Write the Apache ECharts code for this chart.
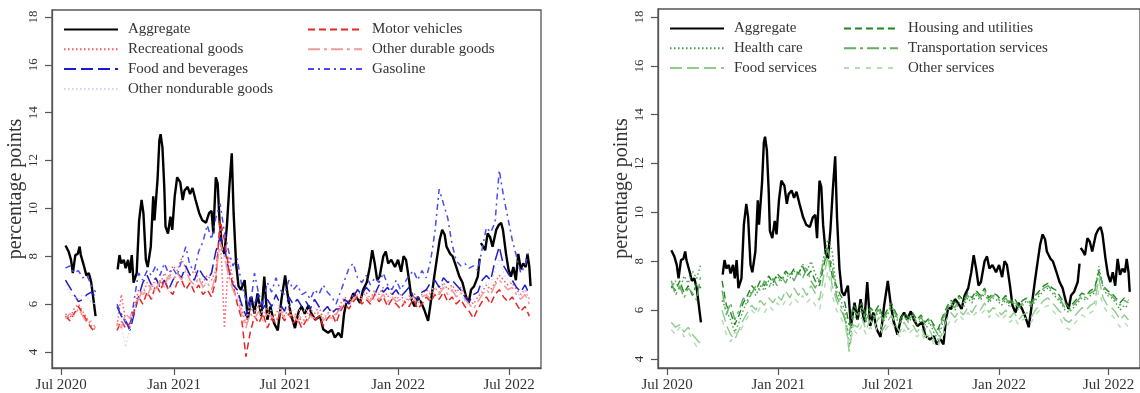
<!DOCTYPE html>
<html>
<head>
<meta charset="utf-8">
<script src="https://cdn.jsdelivr.net/npm/echarts@6/dist/echarts.min.js"></script>
<style>
html, body { margin: 0; padding: 0; background: #fff; }
#chart { width: 1140px; height: 393px; }
</style>
</head>
<body>
<div id="chart"></div>
<script>
const FONT = '"Liberation Serif", "DejaVu Serif", serif';

const xTickDates = ['2020-07-01', '2021-01-01', '2021-07-01', '2022-01-01', '2022-07-01'];
const xTickLabels = ['Jul 2020', 'Jan 2021', 'Jul 2021', 'Jan 2022', 'Jul 2022'];
const yTicks = [4, 6, 8, 10, 12, 14, 16, 18];

// aggregate: days after 2020-07-01 (irregular), null = break in the line
const aggDays = [7, 12, 16, 19, 23, 27, 30, 32, 37, 41, 45, 49, 52, 56, 74,
    92, 95, 98, 102, 105, 109, 112, 115, 118, 123, 127, 131, 134, 138, 141, 146, 150, 152, 157, 160,
    162, 165, 168, 170, 174, 178, 181, 185, 189, 194, 198, 201, 206, 210, 214, 219, 225, 230, 236, 241,
    245, 248, 252, 255, 258, 262, 266, 270, 274, 278, 281, 285, 289, 293, 299, 304, 310, 315, 320, 326,
    331, 336, 341, 347, 353, 359,
    365, 369, 374, 381, 387, 392, 397, 403, 408, 414, 422, 427, 435, 441, 446, 452, 457, 461, 465, 470,
    476, 481, 487, 492, 498, 503, 507, 511, 515, 519, 525, 529, 533, 538, 544, 549, 554, 558, 562, 567,
    571, 576, 581, 587, 592, 598, 603, 608, 612, 617, 621, 625, 628, 634, 638, 644, 649, 654, 660, 664,
    668, 673, 679, 682, 683, 684, 688, 691, 695, 699, 703, 709, 713, 717, 720, 725, 729, 733, 737, 741,
    745, 749, 753, 757, 760, 763, 765];
const aggValues = [8.45, 8.2, 7.85, 7.3, 8.05, 8.1, 8.4, 8.05, 7.6, 7.2, 7.3, 6.9, 6.3, 5.5, null,
    7.45, 8.05, 7.7, 7.85, 7.5, 7.85, 7.3, 8.05, 6.9, 7.3, 9.5, 10.35, 9.8, 7.85, 7.55, 8.4, 10.5, 9.5, 11.2, 12.85,
    13.1, 12.55, 10.9, 9.25, 8.95, 9.65, 9.1, 10.5, 11.3, 11.1, 10.35, 10.75, 10.9, 10.6, 10.85, 10.35, 9.8, 9.5, 9.4, 9.8,
    9.9, 8.95, 11.3, 11.05, 9.5, 8.4, 8.1, 9.25, 10.9, 12.3, 9.8, 7.7, 6.75, 6.6, 7.0, 5.35, 6.3, 5.6, 6.45, 5.5,
    7.15, 5.35, 5.9, 5.2, 4.9, 6.2,
    7.2, 6.4, 5.6, 5.0, 5.7, 5.9, 5.6, 5.95, 5.6, 5.35, 5.5, 4.95, 4.8, 4.93, 4.6, 4.8, 4.6, 5.6, 6.1, 6.05,
    6.45, 6.3, 6.05, 6.6, 6.9, 7.55, 8.25, 7.7, 7.0, 7.15, 8.0, 8.2, 7.7, 7.85, 7.55, 7.85, 7.35, 8.0, 7.85, 7.0,
    6.2, 5.9, 6.3, 6.05, 5.75, 5.3, 6.2, 7.15, 7.85, 8.7, 9.1, 8.9, 8.4, 8.1, 8.0, 7.55, 7.15, 6.9, 6.3, 6.05,
    6.6, 6.75, 7.15, 7.9, null, 8.55, 8.4, 8.25, 8.95, 8.8, 8.4, 9.1, 9.3, 9.4, 9.1, 8.1, 7.45, 7.15, 7.55, 7.0,
    8.1, 7.45, 7.7, 7.55, 8.1, 7.55, 6.75];

// components: one value per week starting 2020-07-08 (null = no data)
const recreational = [5.6, 5.4, 5.8, 6.0, 5.7, 5.4, 5.1, 4.9, null, null, null, null,
    5.1, 6.4, 5.3, 5.0, 5.8, 6.6, 6.4, 6.9, 6.6, 7.1, 6.8, 7.3, 7.0, 7.6, 7.4, 7.9, 7.5, 7.2, 7.4, 7.1,
    6.9, 7.2, 7.0, 7.4, 9.2, 5.0, 8.0, 7.0, 6.5, 5.8, 5.2, 5.9, 5.6, 6.0, 5.5, 5.8, 5.3, 5.6, 5.9, 5.5,
    5.8, 5.4, 5.7, 5.2, 5.5, 5.8, 5.6, 5.9, 5.4, 5.6, 5.8, 5.5, 6.0, 6.3, 6.1, 6.4, 6.6, 6.3, 6.5, 6.2,
    6.6, 6.4, 6.7, 6.3, 6.5, 6.2, 6.4, 6.1, 6.3, 6.5, 6.2, 6.4, 6.6, 6.4, 6.7, 6.5, 6.9, 6.6, 6.8, 6.5,
    6.7, 6.4, 6.2, 6.0, 6.3, 6.5, 6.8, 6.6, 6.9, 7.2, 7.0, 6.8, 6.9, 6.6, 6.4, 6.6, 6.2];
const foodBev = [7.0, 6.7, 6.4, 6.1, 6.2, 6.4, 6.5, 6.3, null, null, null, null,
    5.9, 5.5, 5.3, 4.9, 5.6, 6.3, 6.9, 7.2, 6.8, 7.1, 6.7, 7.0, 6.6, 7.0, 7.3, 7.1, 7.6, 7.2, 7.0, 7.5,
    7.2, 7.0, 7.3, 8.2, 8.8, 8.4, 7.4, 6.8, 6.6, 6.0, 5.5, 6.3, 6.0, 6.4, 5.8, 6.2, 5.9, 6.4, 6.0, 5.7,
    6.3, 6.0, 6.2, 5.9, 6.1, 5.8, 6.2, 5.9, 5.7, 5.9, 5.6, 5.8, 5.8, 6.2, 6.0, 6.3, 6.6, 6.4, 6.7, 6.5,
    6.4, 6.8, 6.5, 6.7, 6.4, 6.6, 6.3, 6.5, 6.7, 6.3, 6.2, 6.5, 6.6, 6.9, 7.0, 6.7, 7.1, 6.9, 7.0, 6.8,
    6.6, 6.3, 6.1, 6.4, 6.5, 7.0, 7.2, 7.0, 7.8, 8.4, 7.6, 7.3, 7.0, 6.7, 6.5, 6.8, 6.4];
const otherNondurable = [6.8, 6.5, 6.3, 6.2, 6.4, 6.3, 6.1, 6.0, null, null, null, null,
    5.6, 5.2, 4.2, 5.0, 5.8, 6.2, 6.6, 6.8, 6.6, 6.9, 6.7, 6.8, 6.5, 6.8, 7.0, 6.8, 7.1, 6.9, 6.7, 7.0,
    6.8, 6.9, 7.0, 7.6, 8.2, 7.8, 7.0, 6.5, 6.2, 5.8, 5.4, 5.9, 5.7, 6.0, 5.6, 5.9, 5.7, 6.1, 5.8, 5.6,
    6.0, 5.7, 5.9, 5.6, 5.8, 5.5, 5.9, 5.6, 5.4, 5.6, 5.3, 5.5, 5.7, 6.0, 5.9, 6.1, 6.3, 6.2, 6.4, 6.2,
    6.2, 6.5, 6.3, 6.4, 6.2, 6.3, 6.1, 6.2, 6.4, 6.1, 6.0, 6.3, 6.4, 6.6, 6.7, 6.5, 6.8, 6.6, 6.7, 6.5,
    6.4, 6.1, 5.9, 6.2, 6.3, 6.7, 6.9, 6.8, 7.4, 7.9, 7.3, 7.0, 6.8, 6.5, 6.3, 6.6, 6.2];
const motorVehicles = [5.5, 5.3, 5.6, 5.9, 5.6, 5.3, 5.0, 4.8, null, null, null, null,
    4.9, 5.3, 5.0, 5.2, 5.7, 6.3, 6.0, 6.5, 6.2, 6.8, 6.5, 7.0, 6.6, 6.4, 6.9, 7.0, 6.6, 6.9, 6.5, 6.8,
    6.4, 6.6, 6.3, 7.0, 9.5, 8.7, 7.5, 6.8, 6.0, 5.4, 3.8, 4.8, 5.5, 5.2, 5.6, 5.0, 5.4, 5.2, 5.6, 5.3,
    5.6, 5.2, 5.4, 5.0, 5.3, 5.6, 5.3, 5.5, 5.1, 5.4, 5.6, 5.2, 5.7, 6.0, 5.8, 6.1, 6.3, 6.0, 6.2, 6.0,
    6.4, 6.1, 6.3, 5.9, 6.2, 6.0, 5.8, 6.1, 5.9, 6.2, 5.8, 6.0, 6.3, 6.1, 6.4, 6.2, 6.5, 6.1, 6.3, 6.0,
    6.2, 5.9, 5.7, 5.4, 5.8, 6.1, 6.3, 6.0, 6.4, 6.6, 6.3, 6.1, 6.3, 6.0, 5.7, 5.9, 5.5];
const otherDurable = [5.4, 5.6, 5.5, 5.8, 5.5, 5.2, 5.3, 5.0, null, null, null, null,
    5.2, 5.0, 5.6, 5.4, 6.0, 6.2, 6.6, 6.3, 6.8, 6.5, 7.0, 6.7, 7.2, 7.0, 7.3, 7.0, 7.4, 7.0, 6.8, 7.1,
    6.7, 6.9, 6.6, 7.2, 8.6, 8.0, 7.2, 6.6, 6.2, 5.6, 5.0, 5.6, 5.4, 5.7, 5.3, 5.6, 5.5, 5.3, 5.7, 5.4,
    5.5, 5.6, 5.3, 5.5, 5.2, 5.5, 5.4, 5.7, 5.3, 5.5, 5.4, 5.6, 5.8, 6.1, 6.0, 6.2, 6.4, 6.2, 6.3, 6.1,
    6.5, 6.2, 6.4, 6.1, 6.3, 6.1, 6.2, 6.0, 6.2, 6.3, 6.0, 6.3, 6.4, 6.2, 6.5, 6.4, 6.7, 6.4, 6.6, 6.3,
    6.5, 6.2, 6.0, 5.8, 6.1, 6.4, 6.6, 6.4, 6.8, 7.0, 6.8, 6.6, 6.7, 6.4, 6.2, 6.4, 6.0];
const gasoline = [7.5, 7.6, 7.3, 7.4, 7.1, 7.2, 6.8, 6.5, null, null, null, null,
    6.0, 5.6, 5.2, 5.0, 6.2, 7.3, 7.0, 7.4, 7.2, 7.6, 7.2, 7.7, 7.3, 7.5, 7.2, 7.8, 8.4, 7.6, 7.4, 8.2,
    8.6, 9.3, 8.7, 9.6, 10.2, 9.0, 8.2, 7.6, 7.9, 6.8, 6.2, 5.8, 7.3, 6.4, 6.0, 6.9, 6.5, 7.1, 6.6, 6.4,
    7.0, 6.6, 6.8, 6.4, 6.5, 6.2, 6.6, 6.4, 6.8, 6.5, 6.3, 6.0, 6.5, 7.0, 7.5, 7.7, 7.1, 6.9, 7.2, 6.8,
    7.1, 6.9, 7.3, 6.8, 6.6, 7.0, 6.6, 6.9, 7.2, 7.4, 7.0, 7.4, 7.1, 7.8, 9.0, 10.8, 10.2, 9.6, 8.5, 7.8,
    7.6, 7.7, 7.5, 7.6, 7.4, 8.3, 9.2, 9.0, 9.4, 11.6, 10.5, 9.6, 8.7, 8.0, 7.3, 7.6, 8.3];

const healthCare = [6.9, 7.2, 6.8, 7.4, 7.1, 7.6, 7.3, 7.9, null, null, null, null,
    6.4, 6.0, 5.6, 5.1, 5.5, 6.0, 6.4, 6.8, 6.6, 7.0, 6.8, 7.2, 7.0, 7.4, 7.2, 7.5, 7.3, 7.6, 7.4, 7.9,
    7.6, 8.0, 7.5, 7.1, 8.2, 8.9, 8.4, 6.8, 6.4, 6.0, 4.5, 5.8, 5.6, 6.0, 5.5, 5.9, 5.6, 6.0, 5.5, 5.8,
    6.1, 5.7, 5.4, 5.8, 5.5, 5.7, 5.4, 5.6, 5.2, 5.5, 5.1, 4.8, 5.4, 5.9, 6.2, 6.0, 6.3, 6.1, 6.5, 6.3,
    6.6, 6.4, 6.7, 6.3, 6.5, 6.4, 6.2, 6.4, 6.1, 6.3, 6.0, 6.2, 6.4, 6.1, 6.4, 6.6, 6.8, 6.9, 6.7, 6.5,
    6.3, 6.0, 5.9, 6.1, 6.3, 6.5, 6.4, 6.6, 6.7, 7.8, 6.9, 6.6, 6.5, 6.3, 6.0, 6.2, 6.1];
const foodServices = [5.5, 5.3, 5.4, 5.1, 5.3, 5.0, 4.8, 4.6, null, null, null, null,
    6.0, 5.4, 5.0, 4.8, 5.2, 5.6, 5.9, 6.2, 6.0, 6.4, 6.2, 6.5, 6.3, 6.6, 6.4, 6.8, 6.5, 6.9, 6.6, 6.9,
    6.6, 7.0, 6.7, 6.4, 7.4, 8.2, 7.0, 6.4, 6.0, 5.7, 4.3, 5.4, 5.3, 5.7, 5.2, 5.6, 5.3, 5.7, 5.2, 5.5,
    5.8, 5.4, 5.1, 5.5, 5.2, 5.4, 5.1, 5.3, 4.9, 5.2, 4.8, 4.6, 5.1, 5.6, 5.9, 5.7, 6.0, 5.8, 6.1, 5.9,
    6.2, 6.0, 6.3, 5.9, 6.1, 6.0, 5.8, 6.0, 5.7, 5.9, 5.6, 5.8, 5.9, 5.7, 6.0, 6.2, 6.4, 6.5, 6.3, 6.1,
    5.9, 5.6, 5.5, 5.7, 5.9, 6.1, 6.0, 6.2, 6.3, 7.3, 6.5, 6.2, 6.1, 5.9, 5.6, 5.8, 5.6];
const housing = [7.0, 6.8, 7.2, 6.7, 7.0, 6.6, 7.1, 6.9, null, null, null, null,
    7.2, 6.2, 5.9, 5.4, 5.8, 6.3, 6.6, 7.0, 6.8, 7.2, 7.0, 7.4, 7.1, 7.5, 7.3, 7.6, 7.4, 7.7, 7.5, 7.8,
    7.4, 7.6, 7.2, 7.0, 7.8, 8.6, 7.4, 7.0, 6.6, 6.3, 5.4, 6.2, 6.0, 6.3, 5.8, 6.1, 5.9, 6.2, 5.7, 6.0,
    6.3, 5.9, 5.6, 5.9, 5.7, 5.9, 5.6, 5.8, 5.5, 5.7, 5.4, 5.2, 5.7, 6.1, 6.4, 6.3, 6.6, 6.4, 6.7, 6.5,
    6.8, 6.6, 6.9, 6.5, 6.7, 6.6, 6.4, 6.6, 6.3, 6.5, 6.2, 6.4, 6.5, 6.3, 6.6, 6.8, 7.0, 7.1, 6.9, 6.8,
    6.5, 6.3, 6.1, 6.3, 6.5, 6.7, 6.6, 6.8, 6.9, 7.6, 7.0, 6.8, 6.7, 6.5, 6.3, 6.5, 6.4];
const transport = [7.2, 6.6, 7.0, 6.5, 6.9, 6.7, 6.4, 7.5, null, null, null, null,
    6.8, 5.8, 6.3, 5.6, 6.0, 6.5, 6.3, 6.7, 7.0, 6.8, 7.2, 6.9, 7.3, 7.0, 7.4, 7.1, 7.5, 7.2, 7.6, 7.3,
    7.7, 7.2, 6.9, 7.3, 8.0, 8.5, 7.8, 6.6, 6.2, 5.6, 5.0, 6.0, 5.8, 6.1, 5.6, 6.0, 5.7, 6.1, 5.6, 5.9,
    6.2, 5.8, 5.5, 5.7, 5.6, 5.8, 5.5, 5.7, 5.4, 5.6, 5.3, 5.0, 5.6, 6.0, 6.3, 6.1, 6.5, 6.3, 6.6, 6.4,
    6.7, 6.5, 6.8, 6.4, 6.6, 6.5, 6.3, 6.5, 6.2, 6.4, 6.1, 6.3, 6.5, 6.2, 6.5, 6.7, 6.9, 7.0, 6.8, 6.6,
    6.4, 6.1, 6.0, 6.2, 6.4, 6.6, 6.5, 6.7, 6.8, 7.5, 7.0, 6.7, 6.6, 6.4, 6.2, 6.4, 6.3];
const otherServices = [5.2, 5.0, 5.3, 4.9, 5.1, 4.8, 4.5, 4.7, null, null, null, null,
    5.6, 5.0, 4.7, 5.1, 5.0, 5.4, 5.7, 6.0, 5.8, 6.1, 5.9, 6.2, 6.0, 6.3, 6.1, 6.4, 6.2, 6.5, 6.3, 6.6,
    6.3, 6.5, 6.2, 6.0, 6.8, 7.6, 6.6, 6.0, 5.7, 5.4, 4.6, 5.2, 5.0, 5.4, 5.0, 5.3, 5.1, 5.4, 5.0, 5.3,
    5.5, 5.2, 4.9, 5.2, 5.0, 5.2, 4.9, 5.1, 4.7, 5.0, 4.6, 4.5, 4.9, 5.3, 5.6, 5.5, 5.8, 5.6, 5.9, 5.7,
    5.9, 5.8, 6.0, 5.7, 5.9, 5.8, 5.6, 5.8, 5.5, 5.7, 5.4, 5.6, 5.7, 5.5, 5.8, 6.0, 6.1, 6.2, 6.0, 5.8,
    5.6, 5.3, 5.2, 5.4, 5.6, 5.8, 5.7, 5.9, 6.0, 6.8, 6.2, 5.9, 5.8, 5.6, 5.3, 5.5, 5.3];

function toTs(s) {
    const p = s.split('-');
    return Date.UTC(+p[0], +p[1] - 1, +p[2]);
}
const DAY = 86400000;
const day0 = toTs('2020-07-01');
const week0 = toTs('2020-07-08');
const xTicks = xTickDates.map(toTs);

const aggData = aggDays.map((d, i) => [day0 + d * DAY, aggValues[i]]);
const weekly = vals => vals.map((v, i) => [week0 + i * 7 * DAY, v]);

function line(name, data, color, width, dash, idx) {
    return {
        name: name, type: 'line', xAxisIndex: idx, yAxisIndex: idx, data: data,
        symbol: 'none', showSymbol: false, connectNulls: false, animation: false, silent: true,
        lineStyle: { color: color, width: width, type: dash },
        itemStyle: { color: color }
    };
}

// dates as plain numbers on a value axis so the ticks can sit exactly on Jan/Jul 1
function xAx(idx) {
    return {
        gridIndex: idx, type: 'value', min: toTs('2020-06-16'), max: toTs('2022-08-22'),
        splitLine: { show: false },
        axisLine: { show: true, lineStyle: { color: '#555', width: 1.3 } },
        axisTick: { show: true, customValues: xTicks, length: 7, lineStyle: { color: '#555', width: 1.2 } },
        axisLabel: {
            customValues: xTicks, margin: 10, fontFamily: FONT, fontSize: 15, color: '#333',
            formatter: v => xTickLabels[xTicks.indexOf(v)] || ''
        }
    };
}

function yAx(idx, min, max) {
    return {
        gridIndex: idx, type: 'value', min: min, max: max,
        splitLine: { show: false },
        axisLine: { show: true, lineStyle: { color: '#555', width: 1.3 } },
        axisTick: { show: true, customValues: yTicks, length: 7, lineStyle: { color: '#555', width: 1.2 } },
        axisLabel: { customValues: yTicks, rotate: 90, margin: 12, fontFamily: FONT, fontSize: 13, color: '#333' },
        name: 'percentage points', nameLocation: 'middle', nameGap: 24,
        nameTextStyle: { fontFamily: FONT, fontSize: 20, color: '#333' }
    };
}

function legend(names, left, top) {
    return {
        data: names, left: left, top: top, orient: 'vertical', selectedMode: false,
        padding: 0, itemWidth: 54, itemHeight: 14, itemGap: 4.8,
        itemStyle: { opacity: 0 },
        textStyle: { fontFamily: FONT, fontSize: 15, color: '#333', padding: [0, 0, 0, 5] }
    };
}

const chart = echarts.init(document.getElementById('chart'));
chart.setOption({
    backgroundColor: '#fff',
    animation: false,
    grid: [
        { left: 52, top: 10, width: 489, height: 359, show: true, borderColor: '#555', borderWidth: 1.3 },
        { left: 658, top: 9, width: 489, height: 360, show: true, borderColor: '#555', borderWidth: 1.3 }
    ],
    xAxis: [xAx(0), xAx(1)],
    yAxis: [yAx(0, 3.33, 18.29), yAx(1, 3.63, 18.33)],
    legend: [
        legend(['Aggregate', 'Recreational goods', 'Food and beverages', 'Other nondurable goods'], 63, 22),
        legend(['Motor vehicles', 'Other durable goods', 'Gasoline'], 307, 22),
        legend(['Aggregate', 'Health care', 'Food services'], 669, 21),
        legend(['Housing and utilities', 'Transportation services', 'Other services'], 843, 21)
    ],
    series: [
        line('Aggregate', aggData, '#000', 2.4, 'solid', 0),
        line('Recreational goods', weekly(recreational), '#ff5a5a', 1.5, [1.5, 2.5], 0),
        line('Food and beverages', weekly(foodBev), '#1c1ccc', 1.5, [12, 5], 0),
        line('Other nondurable goods', weekly(otherNondurable), '#d4d4f2', 1.2, [1.5, 2.5], 0),
        line('Motor vehicles', weekly(motorVehicles), '#e82626', 1.5, [7, 4], 0),
        line('Other durable goods', weekly(otherDurable), '#f29a9a', 1.5, [12, 4, 3, 4], 0),
        line('Gasoline', weekly(gasoline), '#4a4af0', 1.5, [6, 4, 2, 4], 0),

        line('Aggregate', aggData, '#000', 2.4, 'solid', 1),
        line('Health care', weekly(healthCare), '#3e9e3e', 1.4, [1.5, 2.5], 1),
        line('Food services', weekly(foodServices), '#8dcc8d', 1.4, [12, 5], 1),
        line('Housing and utilities', weekly(housing), '#1f871f', 1.4, [7, 4], 1),
        line('Transportation services', weekly(transport), '#62ae62', 1.4, [12, 4, 3, 4], 1),
        line('Other services', weekly(otherServices), '#b2dcb2', 1.4, [5, 6], 1)
    ]
});
</script>
</body>
</html>
